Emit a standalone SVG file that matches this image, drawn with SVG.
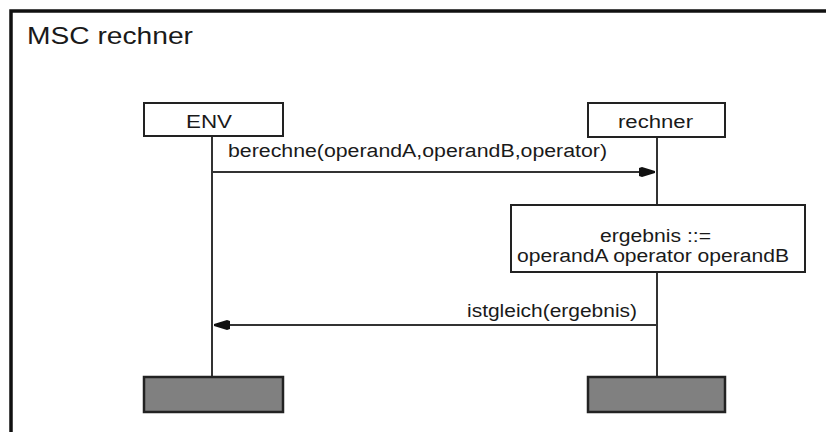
<svg xmlns="http://www.w3.org/2000/svg" width="826" height="432" viewBox="0 0 826 432">
<defs>
<style>
text{font-family:"Liberation Sans",Arial,sans-serif;fill:#1a1a1a}
.lbl{font-size:18px}
.box{fill:#fff;stroke:#222;stroke-width:2}
.end{fill:#808080;stroke:#222;stroke-width:2.5}
.line{stroke:#333;stroke-width:2;fill:none}
</style>
<marker id="ah" viewBox="0 0 16 10" refX="16" refY="5" markerWidth="16" markerHeight="10" markerUnits="userSpaceOnUse" orient="auto">
<path d="M0,1 L3,0 L16,4 L16,6 L3,10 L0,9 Z" fill="#111"/>
</marker>
</defs>
<rect width="826" height="432" fill="#fff"/>
<g id="frame">
<polyline points="11,432 11,11 826,11" fill="none" stroke="#111" stroke-width="3.5"/>
<text x="27" y="44" font-size="24" textLength="166" lengthAdjust="spacingAndGlyphs">MSC rechner</text>
</g>
<g id="connectors">
<line class="line" x1="212" y1="136" x2="212" y2="377"/>
<line class="line" x1="657" y1="137" x2="657" y2="205"/>
<line class="line" x1="657" y1="272" x2="657" y2="377"/>
<line class="line" x1="212" y1="172" x2="655" y2="172" marker-end="url(#ah)"/>
<text class="lbl" x="228" y="157" textLength="379" lengthAdjust="spacingAndGlyphs">berechne(operandA,operandB,operator)</text>
<line class="line" x1="657" y1="325" x2="214" y2="325" marker-end="url(#ah)"/>
<text class="lbl" x="467" y="317" textLength="170" lengthAdjust="spacingAndGlyphs">istgleich(ergebnis)</text>
</g>
<g id="env">
<rect class="box" x="144" y="103" width="139" height="33"/>
<text class="lbl" x="186" y="128" textLength="46" lengthAdjust="spacingAndGlyphs">ENV</text>
</g>
<g id="rechner">
<rect class="box" x="588" y="103" width="137" height="34"/>
<text class="lbl" x="618" y="128" textLength="75" lengthAdjust="spacingAndGlyphs">rechner</text>
</g>
<g id="action">
<rect class="box" x="511" y="205" width="294" height="67"/>
<text class="lbl" x="600" y="242" textLength="111" lengthAdjust="spacingAndGlyphs">ergebnis ::=</text>
<text class="lbl" x="517" y="262" textLength="272" lengthAdjust="spacingAndGlyphs">operandA operator operandB</text>
</g>
<g id="env-end">
<rect class="end" x="144" y="377" width="139" height="35"/>
</g>
<g id="rechner-end">
<rect class="end" x="588" y="377" width="137" height="35"/>
</g>
</svg>
